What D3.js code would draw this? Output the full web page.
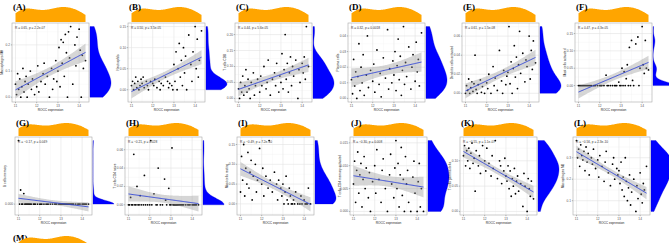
<!DOCTYPE html>
<html>
<head>
<meta charset="utf-8">
<script src="https://cdn.jsdelivr.net/npm/d3@7"></script>
<style>
body { margin: 0; background: #fff; }
svg { display: block; }
</style>
</head>
<body>
<script>
// ROCC expression of each sample (x axis, shared by every panel)
const rocc = [11.0, 11.05, 11.1, 11.15, 11.2, 11.25, 11.3, 11.35, 11.4, 11.45,
  11.5, 11.55, 11.6, 11.7, 11.75, 11.8, 11.9,
  12.0, 12.05, 12.1, 12.2, 12.3, 12.35, 12.4, 12.5, 12.6, 12.7, 12.75, 12.8, 12.9, 12.95,
  13.0, 13.05, 13.1, 13.15, 13.2, 13.25, 13.3, 13.35, 13.4, 13.45,
  13.5, 13.55, 13.6, 13.7, 13.8, 13.85, 13.9, 14.0, 14.05, 14.1,
  14.15, 14.2, 14.3];

// immune cell fractions, same sample order as rocc
const macrophagesM0 = [0.05,0.01,0.09,0.03,0.07,0.0,0.04,0.11,0.02,0.06,0.08,0.0,0.05,0.10,0.03,0.07,0.01,
  0.04,0.12,0.02,0.06,0.09,0.13,0.05,0.08,0.0,0.11,0.03,0.07,0.14,0.06,
  0.10,0.19,0.04,0.22,0.13,0.21,0.08,0.24,0.17,0.0,0.25,0.15,0.27,0.05,0.20,0.12,0.23,0.26,0.18,0.0,0.16,0.11,0.14];
const neutrophils = [0.01,0.02,0.0,0.015,0.03,0.005,0.02,0.0,0.01,0.025,0.015,0.03,0.005,0.02,0.01,0.0,0.02,
  0.015,0.01,0.025,0.005,0.02,0.0,0.015,0.01,0.03,0.02,0.005,0.015,0.01,0.0,
  0.06,0.02,0.09,0.0,0.05,0.11,0.03,0.07,0.01,0.10,0.04,0.08,0.0,0.13,0.06,0.02,0.09,0.15,0.05,0.12,0.03,0.07,0.14];
const tCellsCD8 = [0.03,0.0,0.05,0.02,0.07,0.01,0.04,0.09,0.02,0.06,0.03,0.0,0.05,0.08,0.01,0.04,0.06,
  0.02,0.07,0.04,0.10,0.03,0.05,0.12,0.01,0.06,0.08,0.04,0.11,0.02,0.07,
  0.05,0.14,0.03,0.09,0.20,0.06,0.11,0.02,0.08,0.13,0.04,0.10,0.07,0.12,0.0,0.09,0.05,0.11,0.08,0.13,0.06,0.225,0.10];
const plasmaCells = [0.012,0.003,0.025,0.008,0.017,0.0,0.014,0.035,0.005,0.02,0.01,0.028,0.002,0.015,0.04,0.007,0.018,
  0.011,0.022,0.004,0.031,0.009,0.016,0.001,0.026,0.013,0.044,0.006,0.019,0.01,0.024,
  0.015,0.03,0.005,0.021,0.038,0.012,0.027,0.002,0.018,0.046,0.009,0.023,0.014,0.033,0.006,0.02,0.028,0.011,0.036,0.017,0.025,0.008,0.042];
const dendriticActivated = [0.0,0.008,0.003,0.015,0.0,0.006,0.012,0.002,0.01,0.04,0.004,0.0,0.009,0.014,0.001,0.007,0.0,
  0.011,0.005,0.02,0.0,0.028,0.008,0.016,0.003,0.045,0.013,0.0,0.024,0.009,0.018,
  0.022,0.07,0.01,0.033,0.0,0.026,0.05,0.017,0.038,0.005,0.03,0.065,0.021,0.042,0.012,0.035,0.028,0.06,0.015,0.045,0.025,0.055,0.032];
const mastActivated = [0,0,0,0,0,0,0,0,0,0,0,0,0,0,0,0,0,
  0,0,0,0,0.03,0,0,0,0,0,0,0,0.01,0,
  0,0.05,0,0.04,0,0.02,0.06,0,0.11,0,0.13,0.015,0,0.12,0.14,0,0.05,0.17,0.06,0.035,0.13,0.05,0.045];
const bCellsMemory = [0.0018,0,0.0004,0,0,0.0003,0,0,0,0,0,0,0,0,0,0,0,
  0,0,0,0,0,0,0,0,0,0,0,0,0,0,
  0,0,0,0,0,0,0,0,0,0,0,0,0,0,0,0,0,0,0,0,0,0,0];
const tCellsCD4Naive = [0,0,0.008,0,0,0.055,0,0,0.02,0,0,0.01,0,0,0.032,0,0,
  0,0.07,0,0.012,0,0,0.04,0,0,0.028,0.005,0,0.018,0,
  0,0.062,0,0,0,0,0,0,0,0,0,0,0,0,0,0,0,0,0,0,0,0,0];
const mastResting = [0.03,0.12,0.06,0.15,0.02,0.09,0.05,0.13,0.04,0.08,0.11,0.01,0.07,0.10,0.03,0.06,0.14,
  0.05,0.09,0.02,0.07,0.04,0.16,0.06,0.03,0.08,0.05,0.01,0.06,0.04,0.02,
  0.05,0.0,0.03,0.07,0.01,0.0,0.04,0.02,0.0,0.0,0.01,0.0,0.03,0.0,0.0,0.02,0.0,0.01,0.0,0.0,0.0,0.04,0.0];
const tCellsCD4MemAct = [0.006,0.011,0.002,0.009,0.013,0.004,0.008,0.0105,0.001,0.007,0.012,0.005,0.0095,0.003,0.0085,0.0,0.0065,
  0.01,0.004,0.0135,0.007,0.002,0.009,0.0115,0.005,0.0,0.008,0.0125,0.006,0.003,0.0095,
  0.0155,0.005,0.0105,0.001,0.008,0.014,0.0035,0.007,0.0,0.012,0.006,0.009,0.002,0.0,0.0075,0.011,0.004,0.0,0.0065,0.0105,0.001,0.005,0.0];
const tCellsGammaDelta = [0.11,0.13,0.09,0.12,0.10,0.125,0.085,0.115,0.135,0.095,0.105,0.04,0.12,0.09,0.11,0.075,0.13,
  0.10,0.08,0.125,0.095,0.07,0.11,0.085,0.14,0.065,0.1,0.09,0.055,0.08,0.105,
  0.07,0.06,0.09,0.045,0.08,0.03,0.065,0.05,0.085,0.035,0.06,0.07,0.04,0.055,0.01,0.075,0.05,0.0,0.065,0.045,0.03,0.06,0.025];
const macrophagesM2 = [0.38,0.30,0.34,0.26,0.36,0.31,0.29,0.33,0.24,0.35,0.28,0.32,0.22,0.30,0.27,0.34,0.25,
  0.29,0.21,0.31,0.26,0.19,0.28,0.33,0.23,0.17,0.27,0.30,0.20,0.25,0.22,
  0.24,0.18,0.28,0.15,0.21,0.12,0.30,0.19,0.10,0.16,0.22,0.08,0.14,0.20,0.05,0.17,0.11,0.23,0.13,0.09,0.18,0.15,0.26];

const cellValues = [macrophagesM0, neutrophils, tCellsCD8, plasmaCells, dendriticActivated, mastActivated,
  bCellsMemory, tCellsCD4Naive, mastResting, tCellsCD4MemAct, tCellsGammaDelta, macrophagesM2];
const panelLetters = ['A','B','C','D','E','F','G','H','I','J','K','L'];
const cellNames = ['Macrophages M0','Neutrophils','T cells CD8','Plasma cells','Dendritic cells activated',
  'Mast cells activated','B cells memory','T cells CD4 naive','Mast cells resting',
  'T cells CD4 memory activated','T cells gamma delta','Macrophages M2'];
const statLabels = ['R = 0.65, p = 2.2e-07','R = 0.50, p = 3.5e-05','R = 0.44, p = 5.6e-05','R = 0.32, p = 0.0018',
  'R = 0.61, p = 1.5e-08','R = 0.47, p = 4.3e-05','R = \u22120.17, p = 0.049','R = \u22120.21, p = 0.028',
  'R = \u22120.49, p = 7.2e-10','R = \u22120.30, p = 0.008','R = \u22120.55, p = 1.1e-07','R = \u22120.56, p = 2.3e-10'];
const xTicks = [11, 12, 13, 14];
const yTicks = [[0,0.1,0.2],[0,0.05,0.1,0.15],[0,0.05,0.1,0.15,0.2],[0,0.01,0.02,0.03,0.04],
  [0,0.02,0.04,0.06],[0,0.05,0.1,0.15],[0,0.005,0.01],[0,0.02,0.04,0.06],
  [0,0.05,0.1,0.15],[0,0.005,0.01,0.015],[0,0.05,0.1],[0.1,0.2,0.3,0.4]];

// LAYOUT
const W = 669, H = 243;
const plotLefts = [[12,128,235,348,462,575],[15,125,237,350,460,573]];
const rowTops = [23, 137];
const plotH = [79, 78];
const plotW = 77;
const topMargin = [15, 13];
const sideMargin = 21;
const smallFont = 3.2;

const svg = d3.select('body').append('svg')
  .attr('width', W).attr('height', H);
svg.append('rect').attr('width', W).attr('height', H).attr('fill', '#fff');

// bw.nrd0-like bandwidth + gaussian kde over data range
function kde(values) {
  const s = values.slice().sort(d3.ascending);
  const n = s.length;
  const sd = d3.deviation(s);
  const iqr = d3.quantile(s, 0.75) - d3.quantile(s, 0.25);
  let lo = Math.min(sd, iqr / 1.34);
  if (!lo) lo = sd || 1;
  const bw = 0.9 * lo * Math.pow(n, -0.2);
  const [a, b] = d3.extent(s);
  return d3.range(0, 121).map(k => {
    const g = a + (b - a) * k / 120;
    const v = d3.mean(s, x => Math.exp(-0.5 * ((g - x) / bw) ** 2)) / bw;
    return [g, v];
  });
}

function fitLine(xs, ys) {
  const n = xs.length, mx = d3.mean(xs), my = d3.mean(ys);
  let sxx = 0, sxy = 0;
  xs.forEach((x, i) => { sxx += (x - mx) ** 2; sxy += (x - mx) * (ys[i] - my); });
  const b = sxy / sxx, a = my - b * mx;
  const rss = d3.sum(xs, (x, i) => (ys[i] - a - b * x) ** 2);
  const s = Math.sqrt(rss / (n - 2));
  const t = 2.0066;
  const [x0, x1] = d3.extent(xs);
  return d3.range(0, 81).map(k => {
    const x = x0 + (x1 - x0) * k / 80;
    const fit = a + b * x;
    const se = s * Math.sqrt(1 / n + (x - mx) ** 2 / sxx);
    return { x, fit, lo: fit - t * se, hi: fit + t * se };
  });
}

function expand(ext) {
  const r = ext[1] - ext[0];
  return [ext[0] - 0.05 * r, ext[1] + 0.05 * r];
}

const xExt = expand(d3.extent(rocc));
const roccDens = kde(rocc);

function topDensity(left, base, hMax) {
  const x = d3.scaleLinear().domain(xExt).range([left, left + plotW]);
  const d = d3.scaleLinear().domain([0, d3.max(roccDens, p => p[1])]).range([0, hMax]);
  svg.append('path')
    .attr('d', d3.area().x(p => x(p[0])).y0(base).y1(p => base - d(p[1])).curve(d3.curveBasis)(roccDens))
    .attr('fill', 'orange');
}

function panel(k) {
  const row = k < 6 ? 0 : 1, col = k % 6;
  const left = plotLefts[row][col], top = rowTops[row], h = plotH[row], w = plotW;
  const ys = cellValues[k];
  const band = fitLine(rocc, ys);
  const yExt = expand([
    Math.min(d3.min(ys), d3.min(band, b => b.lo)),
    Math.max(d3.max(ys), d3.max(band, b => b.hi))
  ]);
  const x = d3.scaleLinear().domain(xExt).range([left, left + w]);
  const y = d3.scaleLinear().domain(yExt).range([top + h, top]);
  const g = svg.append('g');
  const clipId = 'clip' + k;
  g.append('clipPath').attr('id', clipId)
    .append('rect').attr('x', left).attr('y', top).attr('width', w).attr('height', h);

  g.append('rect').attr('x', left).attr('y', top).attr('width', w).attr('height', h).attr('fill', '#fff');

  // grid
  const ticksY = yTicks[k].filter(v => v >= yExt[0] && v <= yExt[1]);
  const stepY = yTicks[k][1] - yTicks[k][0];
  const minorY = d3.range(yTicks[k][0] - stepY / 2, yExt[1], stepY).filter(v => v > yExt[0]);
  const minorX = d3.range(10.5, 14.6, 1).filter(v => v > xExt[0] && v < xExt[1]);
  const grid = g.append('g').attr('clip-path', `url(#${clipId})`);
  grid.selectAll('.mx').data(minorX).join('line')
    .attr('x1', d => x(d)).attr('x2', d => x(d)).attr('y1', top).attr('y2', top + h)
    .attr('stroke', '#f2f2f2').attr('stroke-width', 0.4);
  grid.selectAll('.my').data(minorY).join('line')
    .attr('y1', d => y(d)).attr('y2', d => y(d)).attr('x1', left).attr('x2', left + w)
    .attr('stroke', '#f2f2f2').attr('stroke-width', 0.4);
  grid.selectAll('.gx').data(xTicks).join('line')
    .attr('x1', d => x(d)).attr('x2', d => x(d)).attr('y1', top).attr('y2', top + h)
    .attr('stroke', '#e3e3e3').attr('stroke-width', 0.6);
  grid.selectAll('.gy').data(ticksY).join('line')
    .attr('y1', d => y(d)).attr('y2', d => y(d)).attr('x1', left).attr('x2', left + w)
    .attr('stroke', '#e3e3e3').attr('stroke-width', 0.6);

  // points
  g.selectAll('circle').data(rocc).join('circle')
    .attr('cx', d => x(d)).attr('cy', (d, i) => y(ys[i])).attr('r', 0.9)
    .attr('fill', '#000');

  // confidence band + fit
  g.append('path')
    .attr('d', d3.area().x(b => x(b.x)).y0(b => y(b.lo)).y1(b => y(b.hi))(band))
    .attr('fill', '#999').attr('fill-opacity', 0.4);
  g.append('path')
    .attr('d', d3.line().x(b => x(b.x)).y(b => y(b.fit))(band))
    .attr('fill', 'none').attr('stroke', '#2a3fd6').attr('stroke-width', 0.9);

  g.append('rect').attr('x', left).attr('y', top).attr('width', w).attr('height', h)
    .attr('fill', 'none').attr('stroke', '#a8a8a8').attr('stroke-width', 0.6);

  // axes
  g.selectAll('.yt').data(ticksY).join('text')
    .attr('x', left - 2).attr('y', d => y(d) + 1)
    .attr('text-anchor', 'end').attr('font-size', smallFont).attr('fill', '#555')
    .attr('font-family', 'Liberation Sans, Arial, sans-serif')
    .text(d => d3.format('.' + d3.precisionFixed(stepY) + 'f')(d));
  g.selectAll('.ytk').data(ticksY).join('line')
    .attr('x1', left - 1.2).attr('x2', left).attr('y1', d => y(d)).attr('y2', d => y(d))
    .attr('stroke', '#555').attr('stroke-width', 0.4);
  g.selectAll('.xt').data(xTicks).join('text')
    .attr('x', d => x(d)).attr('y', top + h + 4.5)
    .attr('text-anchor', 'middle').attr('font-size', smallFont).attr('fill', '#555')
    .attr('font-family', 'Liberation Sans, Arial, sans-serif')
    .text(d => d);
  g.selectAll('.xtk').data(xTicks).join('line')
    .attr('y1', top + h).attr('y2', top + h + 1.2).attr('x1', d => x(d)).attr('x2', d => x(d))
    .attr('stroke', '#555').attr('stroke-width', 0.4);
  g.append('text')
    .attr('x', left + w / 2).attr('y', top + h + 8.5)
    .attr('text-anchor', 'middle').attr('font-size', smallFont).attr('fill', '#222')
    .attr('font-family', 'Liberation Sans, Arial, sans-serif')
    .text('ROCC expression');
  g.append('text')
    .attr('transform', `translate(${left - 9},${top + h / 2}) rotate(-90)`)
    .attr('text-anchor', 'middle').attr('font-size', smallFont).attr('fill', '#222')
    .attr('font-family', 'Liberation Sans, Arial, sans-serif')
    .text(cellNames[k]);
  g.append('text')
    .attr('x', left + 3).attr('y', top + 6)
    .attr('font-size', smallFont).attr('fill', '#333')
    .attr('font-family', 'Liberation Sans, Arial, sans-serif')
    .text(statLabels[k]);

  // marginal densities
  topDensity(left, top - 1, topMargin[row]);
  const dens = kde(ys);
  const dx = d3.scaleLinear().domain([0, d3.max(dens, p => p[1])]).range([0, sideMargin]);
  svg.append('path')
    .attr('d', d3.area().y(p => y(p[0])).x0(left + w + 1).x1(p => left + w + 1 + dx(p[1])).curve(d3.curveBasis)(dens))
    .attr('fill', '#0000ff').attr('stroke', '#0000cc').attr('stroke-width', 0.3);

  // panel letter
  svg.append('text')
    .attr('x', left + 1).attr('y', row === 0 ? 10 : 126)
    .attr('font-family', 'Liberation Serif, Times New Roman, serif')
    .attr('font-weight', 'bold').attr('font-size', 9)
    .text(`(${panelLetters[k]})`);
}

d3.range(12).forEach(panel);

// panel M (cut off at the bottom of the figure)
svg.append('text')
  .attr('x', 13).attr('y', 241)
  .attr('font-family', 'Liberation Serif, Times New Roman, serif')
  .attr('font-weight', 'bold').attr('font-size', 9)
  .text('(M)');
topDensity(15, 251, 15);
</script>
</body>
</html>
